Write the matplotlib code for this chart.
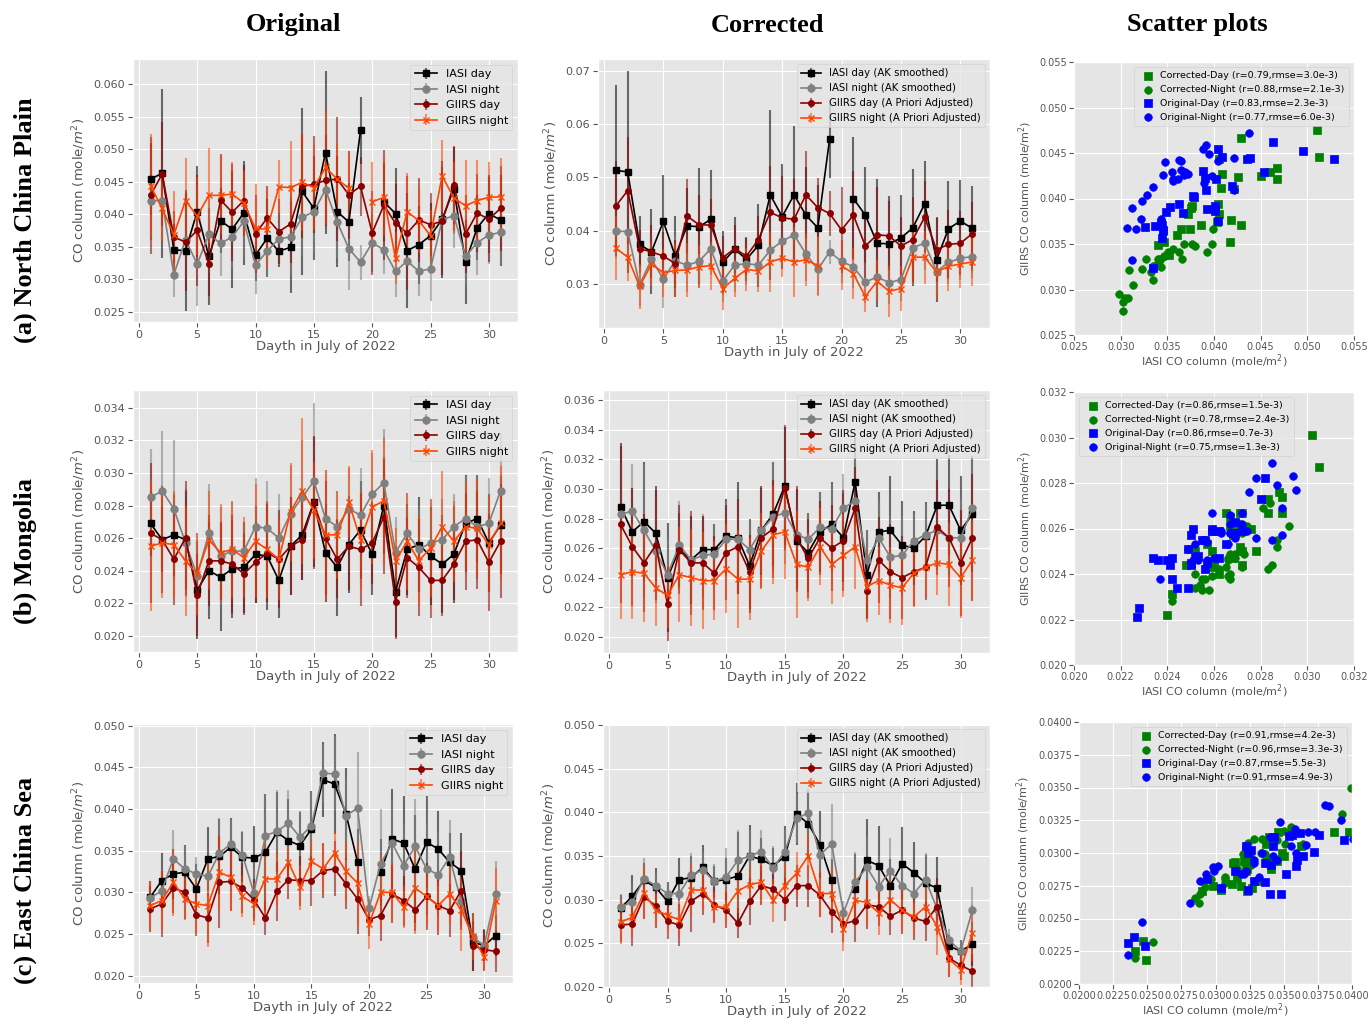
import numpy as np
import matplotlib
matplotlib.use('Agg')
import matplotlib.pyplot as plt
from matplotlib.ticker import MultipleLocator

plt.style.use('ggplot')

nan = np.nan
days = np.arange(1, 32)

# ---------------- (a) North China Plain ----------------
ncp_o_iasi_day = [0.0454, 0.0463, 0.0345, 0.0344, 0.0404, 0.0335, 0.0390, 0.0377, 0.0402, 0.0337, 0.0363, 0.0343, 0.0349, 0.0435, 0.0409, 0.0495,
                  0.0404, 0.0388, 0.0529, nan, 0.0419, 0.0401, 0.0344, 0.0353, 0.0367, 0.0392, 0.0439, 0.0326, 0.0379, 0.0401, 0.0391]
ncp_o_iasi_day_err = [0.0055, 0.013, 0.004, 0.0093, 0.007, 0.0075, 0.005, 0.009, 0.008, 0.004, 0.006, 0.0025, 0.007, 0.0128, 0.008, 0.0125,
                      0.0085, 0.006, 0.0052, nan, 0.006, 0.007, 0.0088, 0.006, 0.005, 0.009, 0.0065, 0.0065, 0.005, 0.006, 0.007]
ncp_o_iasi_night = [0.0421, 0.0421, 0.0307, 0.0361, 0.0323, 0.0369, 0.0355, 0.0365, 0.0389, 0.0322, 0.0343, 0.0362, 0.0365, 0.0395, 0.0404, 0.0438,
                    0.0388, 0.0347, 0.0326, 0.0356, 0.0345, 0.0312, 0.0328, 0.0312, 0.0316, 0.0391, 0.0398, 0.0335, 0.0356, 0.0368, 0.0372]
ncp_o_iasi_night_err = [0.006, 0.006, 0.0035, 0.006, 0.0065, 0.006, 0.005, 0.005, 0.0055, 0.0045, 0.004, 0.004, 0.006, 0.006, 0.006, 0.0055,
                        0.0055, 0.0063, 0.0027, 0.0045, 0.0037, 0.004, 0.0045, 0.0038, 0.005, 0.006, 0.005, 0.0045, 0.005, 0.0045, 0.005]
ncp_o_giirs_day = [0.0429, 0.0462, 0.0365, 0.0357, 0.0375, 0.0324, 0.0422, 0.0403, 0.0421, 0.0370, 0.0394, 0.0373, 0.0385, 0.0443, 0.0446, 0.0452,
                   0.0454, 0.0430, 0.0443, 0.0371, 0.0414, 0.0386, 0.0371, 0.0391, 0.0384, 0.0389, 0.0445, 0.0369, 0.0402, 0.0392, 0.0409]
ncp_o_giirs_day_err = [0.009, 0.008, 0.004, 0.0075, 0.0085, 0.005, 0.007, 0.0075, 0.0055, 0.006, 0.005, 0.005, 0.006, 0.008, 0.0075, 0.007,
                       0.0095, 0.0068, 0.0045, 0.0065, 0.0085, 0.006, 0.0088, 0.0065, 0.0048, 0.0083, 0.006, 0.006, 0.006, 0.0065, 0.0065]
ncp_o_giirs_night = [0.0444, 0.0409, 0.0368, 0.0421, 0.0397, 0.0429, 0.0429, 0.0431, 0.0417, 0.0378, 0.0377, 0.0442, 0.0441, 0.0449, 0.0441, 0.0472,
                     0.0454, 0.0440, nan, 0.0419, 0.0426, 0.0332, 0.0404, 0.0390, 0.0367, 0.0459, 0.0425, 0.0413, 0.0421, 0.0426, 0.0427]
ncp_o_giirs_night_err = [0.008, 0.005, 0.0068, 0.0065, 0.006, 0.0073, 0.006, 0.005, 0.005, 0.0068, 0.006, 0.0041, 0.0072, 0.0075, 0.0065, 0.0088,
                         0.0055, 0.0055, nan, 0.0062, 0.006, 0.004, 0.006, 0.005, 0.004, 0.0055, 0.0055, 0.007, 0.0063, 0.0055, 0.006]

ncp_c_iasi_day = [0.0513, 0.0510, 0.0374, 0.0360, 0.0417, 0.0352, 0.0409, 0.0407, 0.0421, 0.0340, 0.0365, 0.0346, 0.0372, 0.0467, 0.0426, 0.0467,
                  0.0429, 0.0405, 0.0572, nan, 0.0460, 0.0429, 0.0376, 0.0375, 0.0386, 0.0405, 0.0450, 0.0345, 0.0403, 0.0418, 0.0404]
ncp_c_iasi_day_err = [0.016, 0.019, 0.0053, 0.008, 0.0087, 0.0076, 0.007, 0.011, 0.0093, 0.006, 0.006, 0.004, 0.0078, 0.016, 0.0098, 0.013,
                      0.009, 0.008, 0.0073, nan, 0.0115, 0.009, 0.012, 0.009, 0.008, 0.011, 0.008, 0.008, 0.009, 0.0076, 0.008]
ncp_c_iasi_night = [0.0399, 0.0398, 0.0298, 0.0346, 0.0309, 0.0343, 0.0335, 0.0342, 0.0366, 0.0305, 0.0335, 0.0338, 0.0335, 0.0363, 0.0380, 0.0392,
                    0.0356, 0.0327, 0.0360, 0.0342, 0.0332, 0.0303, 0.0313, 0.0302, 0.0308, 0.0368, 0.0376, 0.0323, 0.0340, 0.0348, 0.0351]
ncp_c_iasi_night_err = [0.005, 0.005, 0.004, 0.005, 0.0055, 0.005, 0.005, 0.005, 0.005, 0.004, 0.005, 0.004, 0.004, 0.005, 0.005, 0.006,
                        0.005, 0.005, 0.0022, 0.004, 0.004, 0.004, 0.004, 0.004, 0.004, 0.005, 0.005, 0.004, 0.004, 0.004, 0.004]
ncp_c_giirs_day = [0.0446, 0.0475, 0.0366, 0.0360, 0.0352, 0.0338, 0.0427, 0.0411, 0.0410, 0.0349, 0.0366, 0.0352, 0.0383, 0.0434, 0.0424, 0.0421,
                   0.0467, 0.0443, 0.0432, 0.0401, 0.0429, 0.0371, 0.0392, 0.0390, 0.0371, 0.0383, 0.0425, 0.0364, 0.0374, 0.0376, 0.0394]
ncp_c_giirs_day_err = [0.0085, 0.010, 0.0035, 0.005, 0.0045, 0.0045, 0.007, 0.0055, 0.005, 0.004, 0.0045, 0.0035, 0.0045, 0.0088, 0.0078, 0.0075,
                       0.0082, 0.0055, 0.0043, 0.008, 0.0082, 0.006, 0.009, 0.0065, 0.0055, 0.008, 0.0068, 0.006, 0.0065, 0.006, 0.006]
ncp_c_giirs_night = [0.0367, 0.0350, 0.0295, 0.0337, 0.0321, 0.0325, 0.0326, 0.0332, 0.0334, 0.0291, 0.0310, 0.0327, 0.0324, 0.0341, 0.0348, 0.0341,
                     0.0345, 0.0334, nan, 0.0334, 0.0319, 0.0276, 0.0305, 0.0286, 0.0291, 0.0350, 0.0350, 0.0322, 0.0333, 0.0337, 0.0341]
ncp_c_giirs_night_err = [0.006, 0.0045, 0.0042, 0.004, 0.0045, 0.005, 0.005, 0.004, 0.0045, 0.004, 0.0035, 0.004, 0.004, 0.0056, 0.0035, 0.0065,
                         0.005, 0.0055, nan, 0.0045, 0.0048, 0.0029, 0.004, 0.0048, 0.0043, 0.005, 0.005, 0.005, 0.0047, 0.0045, 0.0045]

# ---------------- (b) Mongolia ----------------
mng_o_iasi_day = [0.0269, 0.0259, 0.0262, 0.0259, 0.0228, 0.0240, 0.0236, 0.0241, 0.0242, 0.0250, 0.0249, 0.0234, 0.0255, 0.0262, 0.0282, 0.0251,
                  0.0242, 0.0256, 0.0265, 0.0250, 0.0280, 0.0227, 0.0253, 0.0256, 0.0249, 0.0244, 0.0250, 0.0269, 0.0272, 0.0257, 0.0268]
mng_o_iasi_day_err = [0.002, 0.002, 0.0025, 0.003, 0.003, 0.003, 0.0033, 0.003, 0.0028, 0.003, 0.0033, 0.0023, 0.003, 0.0028, 0.004, 0.003,
                      0.003, 0.003, 0.003, 0.0025, 0.003, 0.0028, 0.0028, 0.0029, 0.003, 0.003, 0.003, 0.003, 0.0027, 0.003, 0.003]
mng_o_iasi_night = [0.0285, 0.0289, 0.0278, 0.0257, 0.0237, 0.0263, 0.0249, 0.0252, 0.0252, 0.0267, 0.0266, 0.0260, 0.0275, 0.0285, 0.0295, 0.0272,
                    0.0267, 0.0278, 0.0274, 0.0287, 0.0294, 0.0251, 0.0263, 0.0253, 0.0257, 0.0259, 0.0267, 0.0272, 0.0267, 0.0269, 0.0289]
mng_o_iasi_night_err = [0.003, 0.0037, 0.0042, 0.0033, 0.0026, 0.003, 0.003, 0.003, 0.0018, 0.003, 0.0029, 0.0027, 0.003, 0.0035, 0.0048, 0.003,
                        0.0022, 0.0025, 0.0029, 0.0025, 0.0033, 0.0022, 0.0025, 0.0025, 0.0027, 0.0025, 0.002, 0.0026, 0.0032, 0.0028, 0.0035]
mng_o_giirs_day = [0.0263, 0.0259, 0.0247, 0.0260, 0.0225, 0.0246, 0.0246, 0.0244, 0.0238, 0.0245, 0.0251, 0.0247, 0.0255, 0.0259, 0.0282, 0.0260,
                   0.0247, 0.0255, 0.0253, 0.0257, 0.0273, 0.0221, 0.0248, 0.0242, 0.0234, 0.0234, 0.0244, 0.0258, 0.0259, 0.0245, 0.0258]
mng_o_giirs_day_err = [0.0043, 0.0033, 0.0028, 0.0035, 0.0025, 0.0028, 0.0024, 0.003, 0.0025, 0.0025, 0.003, 0.003, 0.003, 0.0025, 0.0041, 0.0035,
                       0.0024, 0.0027, 0.0035, 0.0025, 0.0035, 0.0023, 0.0025, 0.003, 0.0023, 0.0022, 0.0022, 0.003, 0.003, 0.003, 0.0035]
mng_o_giirs_night = [0.0255, 0.0257, 0.0256, 0.0246, 0.0238, 0.0259, 0.0251, 0.0253, 0.0248, 0.0258, 0.0253, 0.0247, 0.0276, 0.0289, 0.0277, 0.0262,
                     0.0262, 0.0282, 0.0259, 0.0279, 0.0283, 0.0246, 0.0258, 0.0246, 0.0254, 0.0267, 0.0258, 0.0267, 0.0266, 0.0256, 0.0269]
mng_o_giirs_night_err = [0.004, 0.0034, 0.0033, 0.0034, 0.0025, 0.003, 0.003, 0.003, 0.0025, 0.0035, 0.003, 0.0025, 0.003, 0.0045, 0.003, 0.004,
                         0.0027, 0.0022, 0.003, 0.0035, 0.0039, 0.002, 0.003, 0.0028, 0.003, 0.0034, 0.0025, 0.0028, 0.003, 0.003, 0.0035]

mng_c_iasi_day = [0.0288, 0.0271, 0.0278, 0.0270, 0.0240, 0.0259, 0.0252, 0.0259, 0.0259, 0.0268, 0.0267, 0.0248, 0.0272, 0.0283, 0.0302, 0.0265,
                  0.0257, 0.0271, 0.0276, 0.0267, 0.0305, 0.0242, 0.0271, 0.0272, 0.0262, 0.0260, 0.0268, 0.0289, 0.0289, 0.0272, 0.0283]
mng_c_iasi_day_err = [0.0043, 0.003, 0.004, 0.0032, 0.0037, 0.0025, 0.003, 0.0023, 0.0017, 0.0025, 0.0038, 0.0032, 0.003, 0.0035, 0.004, 0.0035,
                      0.0027, 0.0027, 0.0029, 0.003, 0.003, 0.003, 0.0027, 0.0037, 0.003, 0.0025, 0.0023, 0.0031, 0.0034, 0.0037, 0.0039]
mng_c_iasi_night = [0.0283, 0.0285, 0.0272, 0.0258, 0.0242, 0.0262, 0.0252, 0.0255, 0.0256, 0.0266, 0.0266, 0.0259, 0.0272, 0.0281, 0.0284, 0.0269,
                    0.0266, 0.0274, 0.0273, 0.0287, 0.0292, 0.0252, 0.0267, 0.0254, 0.0255, 0.0265, 0.0269, 0.0272, 0.0267, 0.0267, 0.0287]
mng_c_iasi_night_err = [0.0035, 0.0032, 0.0045, 0.0035, 0.0025, 0.003, 0.0025, 0.0028, 0.002, 0.0025, 0.0025, 0.0021, 0.0028, 0.0037, 0.0035, 0.0023,
                        0.0018, 0.0023, 0.003, 0.0023, 0.0035, 0.002, 0.0025, 0.0028, 0.0027, 0.0018, 0.0021, 0.0027, 0.0025, 0.0026, 0.0033]
mng_c_giirs_day = [0.0276, 0.0261, 0.0250, 0.0262, 0.0222, 0.0259, 0.0250, 0.0250, 0.0243, 0.0257, 0.0261, 0.0244, 0.0267, 0.0273, 0.0301, 0.0267,
                   0.0253, 0.0267, 0.0260, 0.0265, 0.0287, 0.0231, 0.0252, 0.0244, 0.0240, 0.0244, 0.0247, 0.0274, 0.0267, 0.0250, 0.0267]
mng_c_giirs_day_err = [0.0053, 0.004, 0.0033, 0.0037, 0.0025, 0.003, 0.0035, 0.0032, 0.0025, 0.0032, 0.0032, 0.0025, 0.0034, 0.0033, 0.0042, 0.0035,
                       0.0027, 0.0025, 0.0029, 0.0034, 0.0028, 0.0018, 0.0029, 0.0032, 0.0028, 0.0023, 0.0022, 0.0032, 0.0033, 0.0036, 0.0043]
mng_c_giirs_night = [0.0242, 0.0244, 0.0243, 0.0233, 0.0228, 0.0242, 0.0240, 0.0238, 0.0238, 0.0246, 0.0239, 0.0239, 0.0258, 0.0269, 0.0271, 0.0249,
                     0.0247, 0.0261, 0.0249, 0.0255, 0.0261, 0.0234, 0.0238, 0.0235, 0.0233, 0.0243, 0.0247, 0.0250, 0.0249, 0.0240, 0.0252]
mng_c_giirs_night_err = [0.003, 0.0032, 0.0033, 0.0026, 0.0022, 0.0032, 0.0033, 0.0033, 0.0027, 0.003, 0.0033, 0.0028, 0.0026, 0.0033, 0.0032, 0.0036,
                         0.0023, 0.0026, 0.0027, 0.0028, 0.0029, 0.0024, 0.0023, 0.0026, 0.0025, 0.0023, 0.0021, 0.0022, 0.0028, 0.0027, 0.0027]

# ---------------- (c) East China Sea ----------------
ecs_o_iasi_day = [0.0294, 0.0314, 0.0322, 0.0324, 0.0304, 0.0340, 0.0343, 0.0354, 0.0342, 0.0341, 0.0348, 0.0372, 0.0362, 0.0356, 0.0376, 0.0435,
                  0.0430, 0.0394, 0.0336, nan, 0.0324, 0.0364, 0.0359, 0.0328, 0.0360, 0.0352, 0.0336, 0.0326, 0.0240, 0.0236, 0.0248]
ecs_o_iasi_day_err = [0.002, 0.0033, 0.003, 0.0033, 0.003, 0.0038, 0.0045, 0.0035, 0.003, 0.0038, 0.007, 0.0048, 0.005, 0.004, 0.0045, 0.0045,
                      0.006, 0.0055, 0.004, nan, 0.004, 0.006, 0.0057, 0.0065, 0.0055, 0.0045, 0.0035, 0.0045, 0.0035, 0.0019, 0.0025]
ecs_o_iasi_night = [0.0293, 0.0302, 0.0340, 0.0328, 0.0322, 0.0319, 0.0347, 0.0358, 0.0345, 0.0299, 0.0368, 0.0373, 0.0383, 0.0366, 0.0380, 0.0443,
                    0.0442, 0.0392, 0.0401, 0.0281, 0.0334, 0.0359, 0.0332, 0.0355, 0.0328, 0.0321, 0.0342, 0.0289, 0.0246, 0.0236, 0.0298]
ecs_o_iasi_night_err = [0.002, 0.0025, 0.0035, 0.0028, 0.002, 0.0025, 0.0042, 0.003, 0.0028, 0.003, 0.005, 0.005, 0.004, 0.0032, 0.004, 0.0035,
                        0.0045, 0.0045, 0.0067, 0.0015, 0.0066, 0.005, 0.005, 0.0057, 0.0055, 0.005, 0.0045, 0.003, 0.0015, 0.0015, 0.004]
ecs_o_giirs_day = [0.0280, 0.0286, 0.0305, 0.0300, 0.0273, 0.0269, 0.0312, 0.0313, 0.0305, 0.0291, 0.0269, 0.0301, 0.0315, 0.0314, 0.0314, 0.0326,
                   0.0328, 0.0310, 0.0292, 0.0267, 0.0272, 0.0298, 0.0290, 0.0279, 0.0295, 0.0284, 0.0278, 0.0302, 0.0236, 0.0231, 0.0229]
ecs_o_giirs_day_err = [0.0028, 0.004, 0.003, 0.0032, 0.0025, 0.003, 0.0055, 0.0035, 0.003, 0.0025, 0.002, 0.0035, 0.0023, 0.003, 0.003, 0.0033,
                       0.0033, 0.003, 0.0042, 0.002, 0.003, 0.0035, 0.003, 0.0025, 0.004, 0.0035, 0.0032, 0.0047, 0.003, 0.0025, 0.0025]
ecs_o_giirs_night = [0.0284, 0.0290, 0.0312, 0.0292, 0.0286, 0.0284, 0.0324, 0.0318, 0.0295, 0.0286, 0.0316, 0.0316, 0.0336, 0.0306, 0.0337, 0.0328,
                     0.0347, 0.0325, 0.0311, 0.0262, 0.0300, 0.0300, 0.0282, 0.0305, 0.0295, 0.0284, 0.0298, 0.0279, 0.0247, 0.0222, 0.0289]
ecs_o_giirs_night_err = [0.003, 0.0035, 0.004, 0.0025, 0.0035, 0.005, 0.0045, 0.004, 0.0025, 0.0025, 0.0045, 0.0033, 0.0027, 0.0027, 0.0027, 0.003,
                         0.0025, 0.0035, 0.005, 0.003, 0.0045, 0.0035, 0.0025, 0.0055, 0.0035, 0.003, 0.0035, 0.005, 0.0028, 0.0015, 0.004]

ecs_c_iasi_day = [0.0290, 0.0304, 0.0322, 0.0314, 0.0298, 0.0323, 0.0325, 0.0337, 0.0321, 0.0323, 0.0327, 0.0350, 0.0346, 0.0339, 0.0349, 0.0398,
                  0.0387, 0.0363, 0.0322, nan, 0.0312, 0.0345, 0.0339, 0.0316, 0.0341, 0.0331, 0.0319, 0.0313, 0.0247, 0.0241, 0.0249]
ecs_c_iasi_day_err = [0.0015, 0.0024, 0.002, 0.0022, 0.0022, 0.0025, 0.0025, 0.0025, 0.0018, 0.0025, 0.005, 0.0035, 0.0025, 0.002, 0.0035, 0.0035,
                      0.004, 0.0038, 0.0025, nan, 0.004, 0.0047, 0.0045, 0.003, 0.0042, 0.0035, 0.0032, 0.0036, 0.0013, 0.0013, 0.0025]
ecs_c_iasi_night = [0.0292, 0.0297, 0.0324, 0.0316, 0.0307, 0.0307, 0.0328, 0.0334, 0.0321, 0.0326, 0.0345, 0.0350, 0.0355, 0.0336, 0.0355, 0.0393,
                    0.0399, 0.0351, 0.0364, 0.0285, 0.0320, 0.0337, 0.0315, 0.0333, 0.0316, 0.0307, 0.0323, 0.0289, 0.0254, 0.0241, 0.0288]
ecs_c_iasi_night_err = [0.0015, 0.002, 0.0024, 0.0015, 0.0013, 0.002, 0.0025, 0.002, 0.002, 0.0033, 0.0035, 0.003, 0.0025, 0.0025, 0.0025, 0.0028,
                        0.0027, 0.0025, 0.0045, 0.0013, 0.0035, 0.0035, 0.0035, 0.0037, 0.0035, 0.0028, 0.003, 0.002, 0.0012, 0.0013, 0.0027]
ecs_c_giirs_day = [0.0271, 0.0272, 0.0303, 0.0293, 0.0275, 0.0271, 0.0298, 0.0307, 0.0294, 0.0288, 0.0273, 0.0298, 0.0316, 0.0312, 0.0300, 0.0316,
                   0.0316, 0.0305, 0.0286, 0.0272, 0.0276, 0.0294, 0.0292, 0.0281, 0.0288, 0.0279, 0.0275, 0.0292, 0.0233, 0.0225, 0.0218]
ecs_c_giirs_day_err = [0.002, 0.0025, 0.0025, 0.0025, 0.002, 0.0024, 0.0035, 0.0025, 0.0021, 0.0021, 0.0017, 0.0027, 0.0022, 0.0017, 0.0025, 0.0024,
                       0.0024, 0.0025, 0.0024, 0.002, 0.0024, 0.0028, 0.0022, 0.0022, 0.0027, 0.0025, 0.0022, 0.0033, 0.0021, 0.0017, 0.002]
ecs_c_giirs_night = [0.0274, 0.0280, 0.0308, 0.0288, 0.0282, 0.0277, 0.0311, 0.0311, 0.0292, 0.0291, 0.0310, 0.0317, 0.0320, 0.0299, 0.0316, 0.0330,
                     0.0350, 0.0307, 0.0307, 0.0266, 0.0299, 0.0297, 0.0285, 0.0300, 0.0288, 0.0280, 0.0292, 0.0269, 0.0232, 0.0220, 0.0262]
ecs_c_giirs_night_err = [0.0025, 0.0023, 0.003, 0.0018, 0.0018, 0.002, 0.003, 0.0022, 0.0017, 0.002, 0.0025, 0.0023, 0.0025, 0.0025, 0.0025, 0.0025,
                         0.0025, 0.0027, 0.003, 0.0025, 0.003, 0.0027, 0.0025, 0.0025, 0.0025, 0.002, 0.0022, 0.0032, 0.002, 0.0018, 0.0032]

labels_orig = ['IASI day', 'IASI night', 'GIIRS day', 'GIIRS night']
labels_corr = ['IASI day (AK smoothed)', 'IASI night (AK smoothed)',
               'GIIRS day (A Priori Adjusted)', 'GIIRS night (A Priori Adjusted)']

scatter_labels = {
    'ncp': ['Corrected-Day (r=0.79,rmse=3.0e-3)', 'Corrected-Night (r=0.88,rmse=2.1e-3)',
            'Original-Day (r=0.83,rmse=2.3e-3)', 'Original-Night (r=0.77,rmse=6.0e-3)'],
    'mng': ['Corrected-Day (r=0.86,rmse=1.5e-3)', 'Corrected-Night (r=0.78,rmse=2.4e-3)',
            'Original-Day (r=0.86,rmse=0.7e-3)', 'Original-Night (r=0.75,rmse=1.3e-3)'],
    'ecs': ['Corrected-Day (r=0.91,rmse=4.2e-3)', 'Corrected-Night (r=0.96,rmse=3.3e-3)',
            'Original-Day (r=0.87,rmse=5.5e-3)', 'Original-Night (r=0.91,rmse=4.9e-3)'],
}

W, H = 1369, 1019
fig = plt.figure(figsize=(W / 100, H / 100), dpi=100)


def px_axes(l, t, r, b):
    return fig.add_axes([l / W, 1 - b / H, (r - l) / W, (b - t) / H])


def serie(ax, y, err, color, marker, ms, label):
    eb = ax.errorbar(days, y, yerr=err, color=color, marker=marker, markersize=ms,
                     lw=1.2, elinewidth=1.5, label=label)
    for bar in eb[2]:
        bar.set_alpha(0.55)


def time_panel(ax, data, labels, ylim, step, legsize):
    idn, idn_e, inn, inn_e, gd, gd_e, gn, gn_e = data
    serie(ax, idn, idn_e, 'black', 's', 5, labels[0])
    serie(ax, inn, inn_e, 'gray', 'o', 5, labels[1])
    serie(ax, gd, gd_e, 'darkred', 'o', 4, labels[2])
    serie(ax, gn, gn_e, 'orangered', 'x', 5, labels[3])
    ax.set_xlim(-0.5, 32.5)
    ax.set_ylim(*ylim)
    ax.xaxis.set_major_locator(MultipleLocator(5))
    ax.yaxis.set_major_locator(MultipleLocator(step))
    ax.tick_params(labelsize=8, pad=2)
    ax.set_xlabel('Dayth in July of 2022', fontsize=9.5, labelpad=0)
    ax.set_ylabel('CO column (mole/$m^2$)', fontsize=9.5)
    ax.legend(loc='upper right', fontsize=legsize, handlelength=2)


def scatter_panel(ax, od, on, cd, cn, labels, lim, step, loc):
    ax.scatter(cd[0], cd[1], marker='s', s=30, color='green', label=labels[0])
    ax.scatter(cn[0], cn[1], marker='o', s=30, color='green', label=labels[1])
    ax.scatter(od[0], od[1], marker='s', s=30, color='blue', label=labels[2])
    ax.scatter(on[0], on[1], marker='o', s=30, color='blue', label=labels[3])
    ax.set_xlim(*lim)
    ax.set_ylim(*lim)
    ax.xaxis.set_major_locator(MultipleLocator(step))
    ax.yaxis.set_major_locator(MultipleLocator(step))
    ax.tick_params(labelsize=7, pad=1.5)
    ax.set_xlabel('IASI CO column (mole/m$^2$)', fontsize=8, labelpad=0)
    ax.set_ylabel('GIIRS CO column (mole/m$^2$)', fontsize=8)
    ax.legend(loc=loc, fontsize=6.8, handletextpad=0.3, borderpad=0.5)


rows = [
    dict(o=[ncp_o_iasi_day, ncp_o_iasi_day_err, ncp_o_iasi_night, ncp_o_iasi_night_err,
            ncp_o_giirs_day, ncp_o_giirs_day_err, ncp_o_giirs_night, ncp_o_giirs_night_err],
         c=[ncp_c_iasi_day, ncp_c_iasi_day_err, ncp_c_iasi_night, ncp_c_iasi_night_err,
            ncp_c_giirs_day, ncp_c_giirs_day_err, ncp_c_giirs_night, ncp_c_giirs_night_err],
         pos=[(133, 59, 518, 322), (598, 59, 990, 328), (1074, 62, 1354, 335)],
         ylo=(0.0234, 0.0639), so=0.005, ylc=(0.0217, 0.0722), sc=0.01,
         slim=(0.025, 0.055), sstep=0.005, sloc='upper right', key='ncp'),
    dict(o=[mng_o_iasi_day, mng_o_iasi_day_err, mng_o_iasi_night, mng_o_iasi_night_err,
            mng_o_giirs_day, mng_o_giirs_day_err, mng_o_giirs_night, mng_o_giirs_night_err],
         c=[mng_c_iasi_day, mng_c_iasi_day_err, mng_c_iasi_night, mng_c_iasi_night_err,
            mng_c_giirs_day, mng_c_giirs_day_err, mng_c_giirs_night, mng_c_giirs_night_err],
         pos=[(133, 390, 518, 652), (603, 390, 990, 653), (1074, 392, 1354, 665)],
         ylo=(0.0190, 0.0351), so=0.002, ylc=(0.0189, 0.0367), sc=0.002,
         slim=(0.020, 0.032), sstep=0.002, sloc='upper left', key='mng'),
    dict(o=[ecs_o_iasi_day, ecs_o_iasi_day_err, ecs_o_iasi_night, ecs_o_iasi_night_err,
            ecs_o_giirs_day, ecs_o_giirs_day_err, ecs_o_giirs_night, ecs_o_giirs_night_err],
         c=[ecs_c_iasi_day, ecs_c_iasi_day_err, ecs_c_iasi_night, ecs_c_iasi_night_err,
            ecs_c_giirs_day, ecs_c_giirs_day_err, ecs_c_giirs_night, ecs_c_giirs_night_err],
         pos=[(133, 724, 513, 983), (603, 724, 990, 987), (1079, 722, 1352, 984)],
         ylo=(0.0191, 0.0502), so=0.005, ylc=(0.020, 0.0501), sc=0.005,
         slim=(0.020, 0.040), sstep=0.0025, sloc='upper right', key='ecs'),
]

for row in rows:
    ax1 = px_axes(*row['pos'][0])
    time_panel(ax1, row['o'], labels_orig, row['ylo'], row['so'], 8)
    ax2 = px_axes(*row['pos'][1])
    time_panel(ax2, row['c'], labels_corr, row['ylc'], row['sc'], 7.3)
    ax3 = px_axes(*row['pos'][2])
    o, c = row['o'], row['c']
    scatter_panel(ax3, (o[0], o[4]), (o[2], o[6]), (c[0], c[4]), (c[2], c[6]),
                  scatter_labels[row['key']], row['slim'], row['sstep'], row['sloc'])

serif = 'Liberation Serif'
for x, t in [(293, 'Original'), (768, 'Corrected'), (1197, 'Scatter plots')]:
    fig.text(x / W, 1 - 25 / H, t, ha='center', va='center', fontsize=19,
             fontweight='bold', family=serif)
for y, t in [(220, '(a) North China Plain'), (551, '(b) Mongolia'), (880, '(c) East China Sea')]:
    fig.text(25 / W, 1 - y / H, t, ha='center', va='center', rotation=90, fontsize=19,
             fontweight='bold', family=serif)

fig.savefig('out.png', dpi=100)
